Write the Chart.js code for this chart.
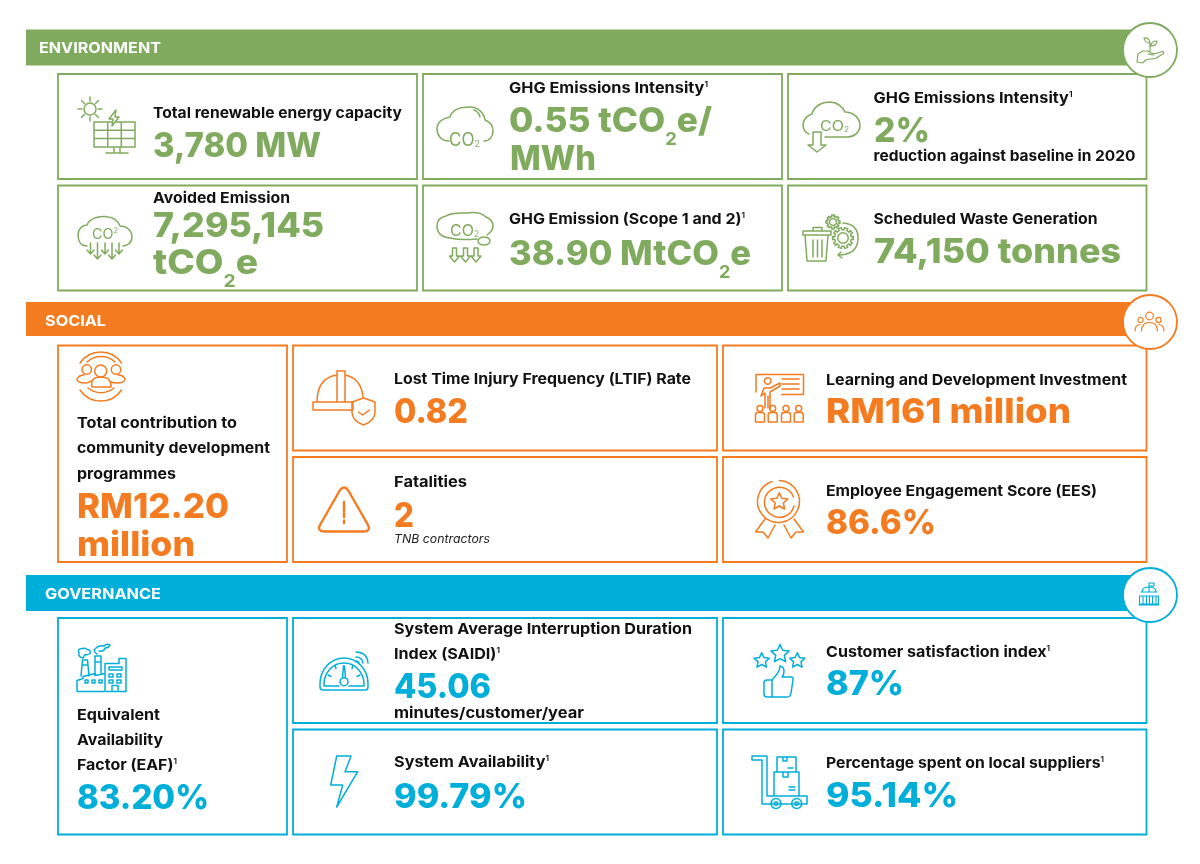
<!DOCTYPE html>
<html>
<head>
<meta charset="utf-8">
<title>Sustainability performance</title>
<script src="https://cdn.jsdelivr.net/npm/chart.js@4"></script>
<style>
  html, body { margin: 0; padding: 0; background: #fff; }
  canvas { display: block; }
</style>
</head>
<body>
<canvas id="board" width="1200" height="864"></canvas>
<script>
"use strict";

// Figures and captions.
const sectionNames = ['ENVIRONMENT', 'SOCIAL', 'GOVERNANCE'];
const envLabels = ['Total renewable energy capacity', 'Avoided Emission', 'GHG Emissions Intensity¹', 'GHG Emission (Scope 1 and 2)¹', 'GHG Emissions Intensity¹', 'reduction against baseline in 2020', 'Scheduled Waste Generation'];
const envValues = ['3,780 MW', '7,295,145', 'tCO₂e', '0.55 tCO₂e/', 'MWh', '38.90 MtCO₂e', '2%', '74,150 tonnes'];
const socLabels = ['Total contribution to', 'community development', 'programmes', 'Lost Time Injury Frequency (LTIF) Rate', 'Fatalities', 'Learning and Development Investment', 'Employee Engagement Score (EES)'];
const socValues = ['RM12.20', 'million', '0.82', '2', 'RM161 million', '86.6%'];
const govLabels = ['Equivalent', 'Availability', 'Factor (EAF)¹', 'System Average Interruption Duration', 'Index (SAIDI)¹', 'minutes/customer/year', 'System Availability¹', 'Customer satisfaction index¹', 'Percentage spent on local suppliers¹'];
const govValues = ['83.20%', '45.06', '99.79%', '87%', '95.14%'];
const fatalityNote = 'TNB contractors';

// Page layout, in the 1200x864 units of the hidden axes.
const sectionColors = ['#80ab5e', '#f47b20', '#00aeda'];
const bannerSpans = [[29.5, 65.5], [302, 336], [575, 611]];
const badgeCentres = [[1150, 50], [1150, 322], [1150, 595]];
const titleSpots = [[39, 53, 122], [45, 326, 61], [45, 599, 116]];
const cardBoxes = [
  [[58, 74, 417, 179], [58, 185.5, 417, 290.5], [423, 74, 782, 179], [423, 185.5, 782, 290.5], [788, 74, 1146.500, 179], [788, 185.5, 1146.500, 290.5]],
  [[58, 345.5, 287, 562], [293, 345.5, 717, 450.5], [293, 457, 717, 562], [723, 345.5, 1146.500, 450.5], [723, 457, 1146.500, 562]],
  [[58, 618, 287, 834.500], [293, 618, 717, 723], [293, 729.5, 717, 834.500], [723, 618, 1146.500, 723], [723, 729.5, 1146.500, 834.500]]
];
const labelSpots = [
  [[153, 118, 249], [153, 203, 137], [509, 93, 199], [509, 224, 236], [873.5, 103, 199], [873.5, 161, 262], [873.5, 224, 224]],
  [[77, 428, 160], [77, 453, 193], [77, 479, 99], [394, 384, 297], [394, 487, 73], [826, 385, 301], [826, 496, 271]],
  [[77, 720, 83], [77, 745, 86], [77, 770, 100], [394, 634, 298], [394, 659, 106], [394, 718, 190], [394, 767, 155], [826, 657, 224], [826, 768, 278]]
];
const valueSpots = [
  [[153, 157, 168], [153, 237, 171], [153, 274, 105], [509, 132, 203], [510, 170, 86], [509, 265, 242], [874, 142, 56], [874, 263, 247]],
  [[77, 518, 152], [77, 556, 118], [394, 423, 74], [394, 527, 20], [826, 423, 245], [826, 534, 110]],
  [[77, 809, 132], [394, 698, 97], [394, 808, 133], [826, 695, 78], [826, 807, 132]]
];
const labelSets = [envLabels, socLabels, govLabels];
const valueSets = [envValues, socValues, govValues];

// Outline helpers for the pictograms.
function circ(cx, cy, r) {
  return 'M' + (cx - r) + ' ' + cy + 'a' + r + ' ' + r + ' 0 1 0 ' + (2 * r) + ' 0a' + r + ' ' + r + ' 0 1 0 ' + (-2 * r) + ' 0Z';
}
function star(cx, cy, r) {
  let d = '';
  for (let i = 0; i < 10; i++) {
    const a = -Math.PI / 2 + i * Math.PI / 5;
    const rr = i % 2 ? r * 0.48 : r;
    d += (i ? 'L' : 'M') + (cx + rr * Math.cos(a)).toFixed(1) + ' ' + (cy + rr * Math.sin(a)).toFixed(1);
  }
  return d + 'Z';
}
function gear(cx, cy, r, teeth) {
  let d = '';
  const step = Math.PI / teeth;
  for (let i = 0; i < teeth * 2; i++) {
    const rr = i % 2 ? r * 0.8 : r;
    const a0 = i * step - step * 0.5;
    const a1 = i * step + step * 0.5;
    d += (i ? 'L' : 'M') + (cx + rr * Math.cos(a0)).toFixed(1) + ' ' + (cy + rr * Math.sin(a0)).toFixed(1);
    d += 'L' + (cx + rr * Math.cos(a1)).toFixed(1) + ' ' + (cy + rr * Math.sin(a1)).toFixed(1);
  }
  return d + 'Z' + circ(cx, cy, r * 0.5);
}
function arrowDown(x, y0, y1) {
  return 'M' + x + ' ' + y0 + 'V' + y1 + 'M' + (x - 3.5) + ' ' + (y1 - 4) + 'L' + x + ' ' + y1 + 'L' + (x + 3.5) + ' ' + (y1 - 4);
}
function blockArrow(x, y) {
  return 'M' + (x - 2) + ' ' + y + 'h4v8h3l-5 6l-5 -6h3Z';
}
function kid(x) {
  return circ(x, 408.5, 3) + 'M' + (x - 4.5) + ' 422v-7q0 -2.5 2.5 -2.5h4q2.5 0 2.5 2.5v7Z';
}

const icons = [
  // section badges
  [0, 'M1137 62l1-8l5-3h5l4 2.5h4l6-2q2.500 0 1.500 2l-8 5l-9 1l-4 3.500ZM1148 54l6 1M1150 51v-8M1150 43q-5 0 -6-5q5 -1 6 5M1151 46q0-5 6-5q0 5 -6 5', false, 1.200],
  [1, circ(1149.5, 316, 3.8) + circ(1140.5, 320, 2.6) + circ(1158.5, 320, 2.6) + 'M1141.500 331q0-8.500 8-8.500q8 0 8 8.500M1135 331q0-6 5-6.500M1164 331q0-6 -5-6.500', false, 1.200],
  [2, 'M1149 592v-9h5v3h-5M1142 592q0-5 7-5q7 0 7 5M1141 592h16M1139.500 604v-8h19v8ZM1143 596v8M1146.500 596v8M1149.500 596v8M1152.500 596v8M1156 596v8M1139 605h20', false, 1.100],
  // solar panel
  [0, circ(90, 109, 6) + 'M90 97v4M90 117v4M78 109h4M98 109h4M81.500 100.500l3 3M98.500 100.500l-3 3M81.500 117.500l3-3M98.500 117.500l-3-3'],
  [0, 'M94 122H135V147H94ZM94 130.300H135M94 138.600H135M107.700 122V147M121.300 122V147M106 153H128M114 147V153M120 147V153'],
  [0, 'M116 110L109 119H113L112 126L119 117H115L116 110Z', true],
  // avoided emission cloud
  [0, 'M87 246C80 246 78 240 78 235C78 229 82 225 87 225C89 219 97 216 105 216.500C113 217 118 221 120 226C127 226 132 231 132 237C132 243 127 246 123 246'],
  [0, arrowDown(90.500, 243, 254) + arrowDown(97.500, 243, 259) + arrowDown(105, 243, 254) + arrowDown(112, 243, 259) + arrowDown(119, 243, 254)],
  // intensity cloud
  [0, 'M449 141C441 141 437 135 437 129C437 122 443 118 450 117C452 110 460 107 470 107C478 107 484 113 485 120C490 122 493 126 493 131C493 136 490 141 484 141M474 110q5 2 6 7'],
  // scope 1 and 2 cloud
  [0, 'M450 238C441 237 437 232 437 226C437 220 441 217 446 216C452 212 462 213 467 213C474 212 482 213 486 217C491 219 493 222 493 226C493 230 490 233 487 235M450 238C458 240 466 240 477 239M478 241a6 4 0 1 0 12 0a6 4 0 1 0 -12 0'],
  [0, blockArrow(454.500, 248) + blockArrow(465.500, 248) + blockArrow(476, 248)],
  // reduction cloud
  [0, 'M809 134C804 132 803 128 803 125C803 119 808 115 812 114C814 106 822 102 829 102C837 102 843 107 845 112C853 112 860 118 860 125C860 132 854 137 848 137H825'],
  [0, 'M813 132h8v13h5l-9 7l-9-7h5Z'],
  // trash bin and gears
  [0, 'M803 235h28v-4h-28ZM813 231v-3.500h9v3.500M805 235l2 26h19l2-26M813 240v17M817.500 240v17M822 240v17'],
  [0, gear(833, 222, 7, 8) + gear(843, 238, 10.500, 10) + 'M843 223q15 1 15 15q0 16 -18 17M841 252l-3 3l4 3'],
  // helmet and shield
  [1, 'M313 402h40v8h-40ZM317 402q0-24 20-27M345 375q16 3 18 22M337 402v-31h8v31'],
  [1, 'M363.500 398l11.500 4v10q0 9 -11.500 13q-11.500 -4 -11.500 -13v-10ZM358.500 412l4 3l7-5'],
  // warning triangle
  [1, 'M340 490q4-5 8 0l20 35q3 6 -4 6.500h-40q-7 -.5 -4 -6.500ZM344 502v15M344 520.500v2.500', false, 2.400],
  // community
  [1, circ(100.700, 371, 6) + circ(86.700, 369.500, 4.700) + circ(116, 369.500, 4.700)],
  [1, 'M92 387q-2-10 8.700-10q10.700 0 10.300 10ZM91 381q-2 2 -6 2q-8 0 -8 -4q2-4 7-4M110 381q2 2 6 2q9 0 9 -4q-2-4 -7-4'],
  [1, 'M80 363a25 25 0 0 1 41.500 0M87 362a20.500 20.500 0 0 1 28 0M80 390a25 25 0 0 0 41.500 0M88 388a20.500 20.500 0 0 0 26 0'],
  // training
  [1, 'M756 392v-17.500h47.500v20h-22M782 379h17M782 384h17M782 389h17'],
  [1, circ(767.700, 381, 3.300) + 'M765 408v-15l-4 3l3-8h6l10-5v3l-10 6v17M768 396v12'],
  [1, kid(760) + kid(772.700) + kid(786) + kid(798.700)],
  // medal
  [1, 'M772 481.500a21 21 0 1 0 7.300 -1M794 506a15 15 0 1 1 -.5 -9' + star(779.300, 501.700, 9)],
  [1, 'M765 519l-9.500 13h7.500l5 6l7-13M794 519l9.500 13h-7.500l-5 6l-7-13'],
  // factory
  [2, 'M77 691.500h49M77 691.500v-11l6-2v-2l12-3v2l10-2M105 691.500v-28h14v-5h7v33M109 667h13v3h-13ZM109 674h4v3h-4ZM117 674h4v3h-4ZM109 680h4v3h-4ZM117 680h4v3h-4ZM112 691.500v-6h6v6M85 680h3v3h-3ZM92 680h3v3h-3ZM99 680h3v3h-3Z'],
  [2, 'M81 676l1.500-16h5l1.500 16M95 674v-18h6v17M82 665h6M95 662h6'],
  [2, 'M83 658q-5 -1 -4 -5q-2 -4 3 -4.500q4 -1 5 1q4 0 3 4q-3 2 -5 1ZM97 654q-5 -3 -1 -6q3 -3 8 -2q3 -3 6 -1q-1 3 -5 3q-1 4 -6 3'],
  // gauge
  [2, 'M320 684a24 26 0 0 1 48 0v3q0 3 -3 3h-42q-3 0 -3 -3ZM324 686v-2a20 21 0 0 1 40 0v2h-15M339 686h-15'],
  [2, circ(344, 681.700, 4) + 'M342.500 678l1-12h1l1 12M328 675l3 1.500M360 675l-3 1.500M335 665.500l1 3M353 665.500l-1 3'],
  [2, 'M356 657q6 0 7 6M356 652q11 0 12 11M356 661q2 0 3 2'],
  // lightning bolt
  [2, 'M336.700 756H351L345 771.700H357.700L336.700 807L342.700 785H330.700Z'],
  // stars and thumb
  [2, star(761.700, 660.700, 8) + star(780, 654, 9.500) + star(797.300, 660.700, 8)],
  [2, 'M772 680l5-6q3-4 3-8q4 1 4 5q0 4 -2 6h9q2.500 0 2 3l-2 13q-.5 4 -4 4h-15M772 680v17h-5q-3 0 -3 -3v-11q0-3 3 -3Z'],
  // trolley
  [2, 'M752 756h15v40h40v8h-45v-44h-10ZM777 757h19v15h-19ZM774 772h25v24h-25ZM783 757v4h4v-4M783 772v5h5v-5M788 768h5M789 787h6M789 790h6'],
  [2, circ(776, 803.500, 5) + circ(796.700, 803.500, 5) + circ(776, 803.500, 1.800) + circ(796.700, 803.500, 1.800)]
];
// the small gas labels inside the cloud pictograms
const gasLabels = ['CO²', 'CO₂', 'CO₂', 'CO₂'];
const gasSpots = [[92, 239, 26, 14], [449, 146, 31, 18], [450, 236, 29, 16], [820, 131, 29, 14]];

function box(b) {
  return [{ x: b[0], y: b[1] }, { x: b[2], y: b[1] }, { x: b[2], y: b[3] }, { x: b[0], y: b[3] }, { x: b[0], y: b[1] }];
}

const datasets = [];
sectionNames.forEach(function (name, i) {
  const mid = (bannerSpans[i][0] + bannerSpans[i][1]) / 2;
  datasets.push({
    label: name,
    data: [{ x: 26, y: mid }, { x: 1150, y: mid }],
    showLine: true, pointRadius: 0, borderColor: sectionColors[i],
    borderWidth: bannerSpans[i][1] - bannerSpans[i][0], borderCapStyle: 'butt', order: 2
  });
  cardBoxes[i].forEach(function (b) {
    datasets.push({
      data: box(b), showLine: true, pointRadius: 0, borderColor: sectionColors[i],
      borderWidth: 1.8, borderCapStyle: 'square', borderJoinStyle: 'miter', order: 3
    });
  });
  datasets.push({
    data: [{ x: badgeCentres[i][0], y: badgeCentres[i][1] }],
    pointRadius: 27, pointBackgroundColor: '#fff', pointBorderColor: sectionColors[i], pointBorderWidth: 1.8, order: 1
  });
});

// Draws a line with small ¹ ² and ₂ runs, squeezed to the width seen in the reference.
function drawLine(ctx, text, x, y, width, size, weight, color, italic, subDrop) {
  const parts = text.split(/([¹²₂])/).filter(Boolean);
  const base = (italic ? 'italic ' : '') + weight + ' ' + size + 'px Inter, sans-serif';
  const small = Math.max(weight - 100, 400) + ' ' + (size * 0.52) + 'px Inter, sans-serif';
  const glyph = { '¹': '1', '²': '2', '₂': '2' };
  let natural = 0;
  parts.forEach(function (p) {
    ctx.font = glyph[p] ? small : base;
    natural += ctx.measureText(glyph[p] || p).width;
  });
  ctx.save();
  ctx.translate(x, y);
  ctx.scale(width / natural, 1);
  ctx.fillStyle = color;
  ctx.textBaseline = 'alphabetic';
  ctx.textAlign = 'left';
  let cursor = 0;
  parts.forEach(function (p) {
    let shift = 0;
    if (p === '₂') shift = size * (subDrop === undefined ? 0.38 : subDrop);
    if (p === '¹' || p === '²') shift = -size * 0.42;
    ctx.font = glyph[p] ? small : base;
    ctx.fillText(glyph[p] || p, cursor, shift);
    cursor += ctx.measureText(glyph[p] || p).width;
  });
  ctx.restore();
}

const boardPlugin = {
  id: 'board',
  afterDatasetsDraw: function (chart) {
    const ctx = chart.ctx;
    const ox = chart.scales.x.getPixelForValue(0);
    const oy = chart.scales.y.getPixelForValue(0);
    ctx.save();
    ctx.translate(ox, oy);

    icons.forEach(function (ic) {
      const path = new Path2D(ic[1]);
      ctx.strokeStyle = sectionColors[ic[0]];
      ctx.lineWidth = ic[3] || 1.5;
      ctx.lineJoin = 'round';
      ctx.lineCap = 'round';
      if (ic[2]) {
        ctx.fillStyle = '#fff';
        ctx.fill(path);
      }
      ctx.stroke(path);
    });
    gasLabels.forEach(function (text, j) {
      const s = gasSpots[j];
      drawLine(ctx, text, s[0], s[1], s[2], s[3], 400, sectionColors[0], false, 0.04);
    });

    sectionNames.forEach(function (name, i) {
      const t = titleSpots[i];
      drawLine(ctx, name, t[0], t[1], t[2], 15, 700, '#fff');
      labelSets[i].forEach(function (text, j) {
        const s = labelSpots[i][j];
        drawLine(ctx, text, s[0], s[1], s[2], 15, 700, '#111');
      });
      valueSets[i].forEach(function (text, j) {
        const s = valueSpots[i][j];
        drawLine(ctx, text, s[0], s[1], s[2], 34, 800, sectionColors[i]);
      });
    });
    drawLine(ctx, fatalityNote, 394, 543, 96, 11.5, 400, '#222', true);
    ctx.restore();
  }
};

new Chart(document.getElementById('board'), {
  type: 'scatter',
  data: { datasets: datasets },
  options: {
    responsive: false,
    animation: false,
    devicePixelRatio: 1,
    layout: { padding: 0, autoPadding: false },
    scales: {
      x: { type: 'linear', min: 0, max: 1200, display: false },
      y: { type: 'linear', min: 0, max: 864, reverse: true, display: false }
    },
    plugins: { legend: { display: false }, tooltip: { enabled: false } }
  },
  plugins: [boardPlugin]
});
</script>
</body>
</html>
